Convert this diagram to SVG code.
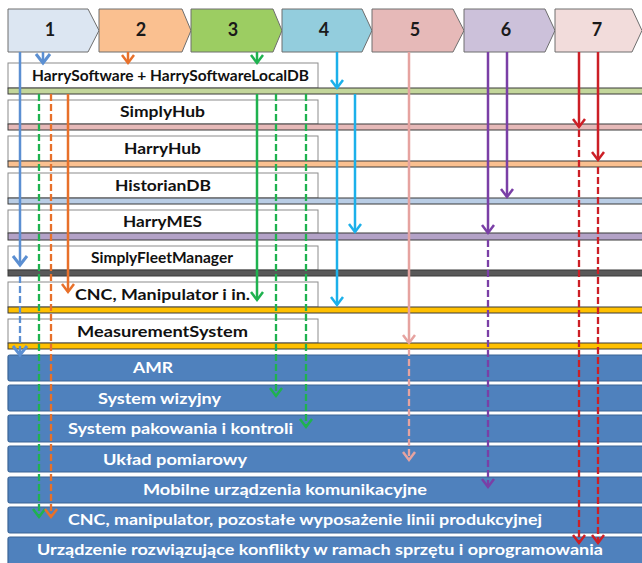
<svg xmlns="http://www.w3.org/2000/svg" width="642" height="563" viewBox="0 0 642 563">
<defs>
<style>
.chev{stroke:#6e6e6e;stroke-width:1}
.num{font-family:Lato,"Liberation Sans",sans-serif;font-weight:700;font-size:18px;fill:#1a1a1a;text-anchor:middle}
.box{fill:#fff;stroke:#8c8c8c;stroke-width:1}
.bar{stroke:#3a3a3a;stroke-width:1}
.lbl{font-family:Lato,"Liberation Sans",sans-serif;font-weight:700;font-size:15px;fill:#111;text-anchor:middle}
.blue{fill:#4f81bd;stroke:#3a6496;stroke-width:1.2}
.wl{font-family:Lato,"Liberation Sans",sans-serif;font-weight:700;font-size:15px;fill:#fff;text-anchor:middle}
.c{fill:none;stroke-width:2.5}
.d{stroke-dasharray:7 3;stroke-width:2.3}
</style>
<marker id="aB" markerUnits="userSpaceOnUse" viewBox="-10 -7 12 14" refX="0" refY="0" markerWidth="12" markerHeight="14" orient="auto" overflow="visible"><path d="M-9,-7 L0,0 L-9,7" fill="none" stroke="#5b8fd2" stroke-width="3"/></marker>
<marker id="aO" markerUnits="userSpaceOnUse" viewBox="-10 -7 12 14" refX="0" refY="0" markerWidth="12" markerHeight="14" orient="auto" overflow="visible"><path d="M-8,-6 L0,0 L-8,6" fill="none" stroke="#e8702a" stroke-width="2.5"/></marker>
<marker id="aG" markerUnits="userSpaceOnUse" viewBox="-10 -7 12 14" refX="0" refY="0" markerWidth="12" markerHeight="14" orient="auto" overflow="visible"><path d="M-8,-6 L0,0 L-8,6" fill="none" stroke="#1fb24f" stroke-width="2.5"/></marker>
<marker id="aC" markerUnits="userSpaceOnUse" viewBox="-10 -7 12 14" refX="0" refY="0" markerWidth="12" markerHeight="14" orient="auto" overflow="visible"><path d="M-8,-6 L0,0 L-8,6" fill="none" stroke="#1cb0ea" stroke-width="2.5"/></marker>
<marker id="aP" markerUnits="userSpaceOnUse" viewBox="-10 -7 12 14" refX="0" refY="0" markerWidth="12" markerHeight="14" orient="auto" overflow="visible"><path d="M-8,-6 L0,0 L-8,6" fill="none" stroke="#e6a3a0" stroke-width="2.5"/></marker>
<marker id="aV" markerUnits="userSpaceOnUse" viewBox="-10 -7 12 14" refX="0" refY="0" markerWidth="12" markerHeight="14" orient="auto" overflow="visible"><path d="M-8,-6 L0,0 L-8,6" fill="none" stroke="#7a3fa6" stroke-width="2.5"/></marker>
<marker id="aR" markerUnits="userSpaceOnUse" viewBox="-10 -7 12 14" refX="0" refY="0" markerWidth="12" markerHeight="14" orient="auto" overflow="visible"><path d="M-8,-6 L0,0 L-8,6" fill="none" stroke="#cc1f26" stroke-width="2.5"/></marker>
</defs>
<rect width="642" height="563" fill="#fff"/>

<g id="step1"><path class="chev" fill="#dce6f2" d="M8,9 L88,9 L99,30.5 L88,52 L8,52 Z"/><text class="num" x="50" y="36">1</text></g>
<g id="step2"><path class="chev" fill="#fac090" d="M99,9 L182,9 L191,30.5 L182,52 L99,52 Z"/><text class="num" x="141" y="36">2</text></g>
<g id="step3"><path class="chev" fill="#9ccd62" d="M191,9 L273,9 L282,30.5 L273,52 L191,52 Z"/><text class="num" x="233" y="36">3</text></g>
<g id="step4"><path class="chev" fill="#93cddd" d="M282,9 L362,9 L372,30.5 L362,52 L282,52 Z"/><text class="num" x="324" y="36">4</text></g>
<g id="step5"><path class="chev" fill="#e6b9b8" d="M372,9 L453,9 L464,30.5 L453,52 L372,52 Z"/><text class="num" x="415" y="36">5</text></g>
<g id="step6"><path class="chev" fill="#ccc1da" d="M464,9 L545,9 L555,30.5 L545,52 L464,52 Z"/><text class="num" x="506" y="36">6</text></g>
<g id="step7"><path class="chev" fill="#f2dcdb" d="M555,9 L632,9 L642,30.5 L632,52 L555,52 Z"/><text class="num" x="597" y="36">7</text></g>

<g id="harrysoftware"><rect class="box" x="8" y="63" width="310" height="25"/><rect class="bar" fill="#c3d69b" x="8" y="88" width="640" height="6"/><text class="lbl" x="170.5" y="81" textLength="277" lengthAdjust="spacingAndGlyphs">HarrySoftware + HarrySoftwareLocalDB</text></g>
<g id="simplyhub"><rect class="box" x="8" y="100" width="310" height="24"/><rect class="bar" fill="#e6b9b8" x="8" y="124" width="640" height="6"/><text class="lbl" x="162.5" y="117" textLength="85" lengthAdjust="spacingAndGlyphs">SimplyHub</text></g>
<g id="harryhub"><rect class="box" x="8" y="136" width="310" height="25"/><rect class="bar" fill="#fac090" x="8" y="161" width="640" height="6"/><text class="lbl" x="162.5" y="154" textLength="77" lengthAdjust="spacingAndGlyphs">HarryHub</text></g>
<g id="historiandb"><rect class="box" x="8" y="173" width="310" height="25"/><rect class="bar" fill="#b9cde5" x="8" y="198" width="640" height="6"/><text class="lbl" x="163" y="191" textLength="96" lengthAdjust="spacingAndGlyphs">HistorianDB</text></g>
<g id="harrymes"><rect class="box" x="8" y="210" width="310" height="23"/><rect class="bar" fill="#b3a2c7" x="8" y="233" width="640" height="7"/><text class="lbl" x="162.5" y="227" textLength="79" lengthAdjust="spacingAndGlyphs">HarryMES</text></g>
<g id="simplyfleetmanager"><rect class="box" x="8" y="246" width="310" height="24"/><rect class="bar" fill="#595959" x="8" y="270" width="640" height="6"/><text class="lbl" x="162" y="263" font-size="13.5" textLength="142" lengthAdjust="spacingAndGlyphs">SimplyFleetManager</text></g>
<g id="cnc-manipulator"><rect class="box" x="8" y="282" width="310" height="25"/><rect class="bar" fill="#ffc000" x="8" y="307" width="640" height="6"/><text class="lbl" x="162.5" y="300" font-size="16" textLength="175" lengthAdjust="spacingAndGlyphs">CNC, Manipulator i in.</text></g>
<g id="measurementsystem"><rect class="box" x="8" y="319" width="310" height="24"/><rect class="bar" fill="#ffc000" x="8" y="343" width="640" height="6"/><text class="lbl" x="162.5" y="337" font-size="16" textLength="171" lengthAdjust="spacingAndGlyphs">MeasurementSystem</text></g>

<g id="amr"><rect class="blue" x="8" y="355" width="640" height="26" rx="2"/><text class="wl" x="153" y="373" textLength="40" lengthAdjust="spacingAndGlyphs">AMR</text></g>
<g id="system-wizyjny"><rect class="blue" x="8" y="385" width="640" height="26" rx="2"/><text class="wl" x="159.5" y="404" textLength="123" lengthAdjust="spacingAndGlyphs">System wizyjny</text></g>
<g id="system-pakowania"><rect class="blue" x="8" y="415" width="640" height="27" rx="2"/><text class="wl" x="180.5" y="434" textLength="225" lengthAdjust="spacingAndGlyphs">System pakowania i kontroli</text></g>
<g id="uklad-pomiarowy"><rect class="blue" x="8" y="446" width="640" height="26" rx="2"/><text class="wl" x="175" y="465" textLength="144" lengthAdjust="spacingAndGlyphs">Układ pomiarowy</text></g>
<g id="mobilne"><rect class="blue" x="8" y="477" width="640" height="26" rx="2"/><text class="wl" x="285" y="495" textLength="284" lengthAdjust="spacingAndGlyphs">Mobilne urządzenia komunikacyjne</text></g>
<g id="cnc-linia"><rect class="blue" x="8" y="507" width="640" height="26" rx="2"/><text class="wl" x="305" y="525" textLength="474" lengthAdjust="spacingAndGlyphs">CNC, manipulator, pozostałe wyposażenie linii produkcyjnej</text></g>
<g id="urzadzenie"><rect class="blue" x="8" y="537" width="640" height="30" rx="2"/><text class="wl" x="320" y="555" textLength="566" lengthAdjust="spacingAndGlyphs">Urządzenie rozwiązujące konflikty w ramach sprzętu i oprogramowania</text></g>

<g id="connectors">
<line class="c" stroke="#5b8fd2" stroke-width="3.5" x1="20" y1="52" x2="20" y2="265" marker-end="url(#aB)"/>
<line class="c d" stroke="#5b8fd2" stroke-width="3" stroke-dasharray="8 4" x1="20" y1="276" x2="20" y2="355" marker-end="url(#aB)"/>
<line class="c" stroke="#5b8fd2" stroke-width="3" x1="43" y1="52" x2="43" y2="63" marker-end="url(#aB)"/>
<line class="c" stroke="#e8702a" x1="128" y1="52" x2="128" y2="63" marker-end="url(#aO)"/>
<line class="c" stroke="#1fb24f" x1="257" y1="52" x2="257" y2="63" marker-end="url(#aG)"/>
<line class="c" stroke="#1cb0ea" x1="337" y1="52" x2="337" y2="88" marker-end="url(#aC)"/>
<line class="c" stroke="#1cb0ea" x1="337" y1="94" x2="337" y2="305" marker-end="url(#aC)"/>
<line class="c" stroke="#1cb0ea" x1="355" y1="94" x2="355" y2="232" marker-end="url(#aC)"/>
<line class="c" stroke="#e6a3a0" x1="409" y1="52" x2="409" y2="343" marker-end="url(#aP)"/>
<line class="c d" stroke="#e6a3a0" x1="409" y1="349" x2="409" y2="460" marker-end="url(#aP)"/>
<line class="c" stroke="#7a3fa6" x1="488" y1="52" x2="488" y2="233" marker-end="url(#aV)"/>
<line class="c d" stroke="#7a3fa6" x1="488" y1="240" x2="488" y2="487" marker-end="url(#aV)"/>
<line class="c" stroke="#7a3fa6" x1="507" y1="52" x2="507" y2="197" marker-end="url(#aV)"/>
<line class="c" stroke="#cc1f26" x1="579" y1="52" x2="579" y2="127" marker-end="url(#aR)"/>
<line class="c d" stroke="#cc1f26" x1="579" y1="130" x2="579" y2="543" marker-end="url(#aR)"/>
<line class="c" stroke="#cc1f26" x1="598" y1="52" x2="598" y2="160" marker-end="url(#aR)"/>
<line class="c d" stroke="#cc1f26" x1="598" y1="167" x2="598" y2="543" marker-end="url(#aR)"/>
<line class="c d" stroke="#1fb24f" x1="39" y1="94" x2="39" y2="517" marker-end="url(#aG)"/>
<line class="c d" stroke="#e8702a" x1="51" y1="94" x2="51" y2="517" marker-end="url(#aO)"/>
<line class="c" stroke="#e8702a" x1="68" y1="94" x2="68" y2="292" marker-end="url(#aO)"/>
<line class="c" stroke="#1fb24f" x1="257" y1="94" x2="257" y2="300" marker-end="url(#aG)"/>
<line class="c d" stroke="#1fb24f" x1="276" y1="94" x2="276" y2="396" marker-end="url(#aG)"/>
<line class="c d" stroke="#1fb24f" x1="306" y1="94" x2="306" y2="427" marker-end="url(#aG)"/>
</g>
</svg>
